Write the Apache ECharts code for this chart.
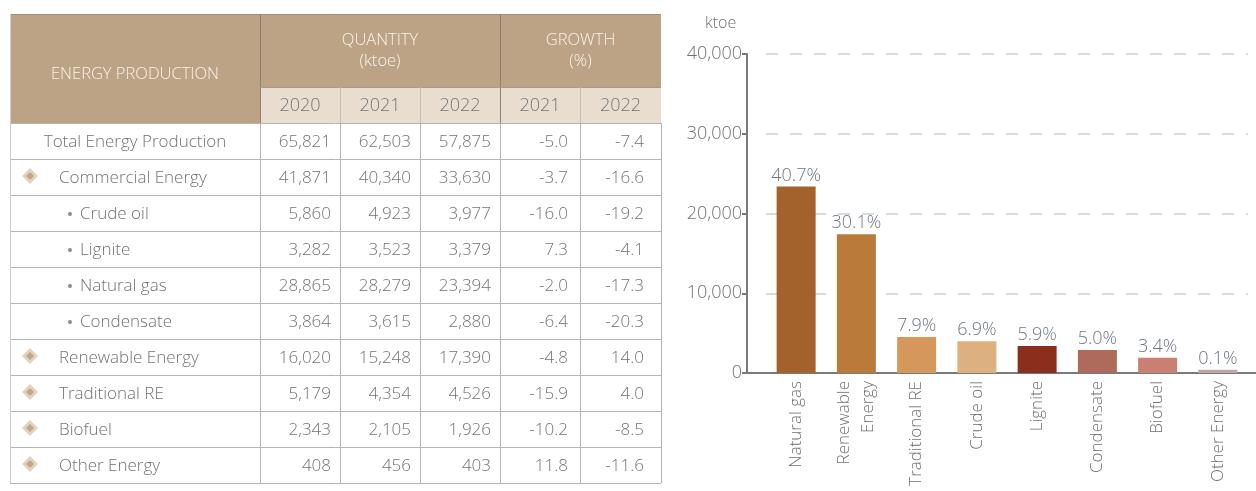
<!DOCTYPE html>
<html>
<head>
<meta charset="utf-8">
<script src="https://cdn.jsdelivr.net/npm/echarts@6/dist/echarts.min.js"></script>
<style>
  html, body { margin: 0; padding: 0; background: #ffffff; }
  #main { width: 1256px; height: 491px; }
</style>
</head>
<body>
<div id="main"></div>
<script>
// ---- Energy production table (ktoe and % growth) ----
const rowLabels = ['Total Energy Production', 'Commercial Energy', 'Crude oil', 'Lignite', 'Natural gas',
  'Condensate', 'Renewable Energy', 'Traditional RE', 'Biofuel', 'Other Energy'];
// 0 = total row, 1 = main group (icon), 2 = sub-item (bullet)
const rowLevels = [0, 1, 2, 2, 2, 2, 1, 1, 1, 1];
const quantity2020 = [65821, 41871, 5860, 3282, 28865, 3864, 16020, 5179, 2343, 408];
const quantity2021 = [62503, 40340, 4923, 3523, 28279, 3615, 15248, 4354, 2105, 456];
const quantity2022 = [57875, 33630, 3977, 3379, 23394, 2880, 17390, 4526, 1926, 403];
const growth2021 = [-5.0, -3.7, -16.0, 7.3, -2.0, -6.4, -4.8, -15.9, -10.2, 11.8];
const growth2022 = [-7.4, -16.6, -19.2, -4.1, -17.3, -20.3, 14.0, 4.0, -8.5, -11.6];
const quantityYears = ['2020', '2021', '2022'];
const growthYears = ['2021', '2022'];

// ---- 2022 production by source ----
const barCategories = ['Natural gas', 'Renewable\nEnergy', 'Traditional RE', 'Crude oil', 'Lignite',
  'Condensate', 'Biofuel', 'Other Energy'];
const barValues = [23394, 17390, 4526, 3977, 3379, 2880, 1926, 403];
const shareLabels = ['40.7%', '30.1%', '7.9%', '6.9%', '5.9%', '5.0%', '3.4%', '0.1%'];
const barColors = ['#a3622c', '#b97a3a', '#d6985a', '#ddb07f', '#8b2f1c', '#ae6a5a', '#c98072', '#c6a3a3'];
const yMax = 40000;
const yStep = 10000;

const FONT = '"Open Sans", "Noto Sans", sans-serif';
const W = 300; // light text weight
const chart = echarts.init(document.getElementById('main'), null, { renderer: 'canvas' });

const gridLeft = 766, gridRight = 8, gridTop = 54, gridBottom = 118, yAxisOffset = 19;
const axisText = '#707070';

chart.setOption({
  animation: false,
  backgroundColor: '#ffffff',
  textStyle: { fontFamily: FONT },
  title: {
    text: 'ktoe', left: 700, top: 10,
    textStyle: { fontSize: 16, fontWeight: W, color: axisText, fontFamily: FONT }
  },
  grid: { left: gridLeft, right: gridRight, top: gridTop, bottom: gridBottom, containLabel: false },
  xAxis: {
    type: 'category',
    data: barCategories,
    axisLine: { show: true, lineStyle: { color: '#7a7a7a', width: 2 } },
    axisTick: { show: false },
    axisLabel: {
      interval: 0, rotate: 90, margin: 8,
      fontSize: 17, fontWeight: W, color: axisText, fontFamily: FONT, lineHeight: 24
    }
  },
  yAxis: {
    type: 'value',
    min: 0, max: yMax, interval: yStep,
    offset: yAxisOffset,
    axisLine: { show: true, lineStyle: { color: '#7a7a7a', width: 2 } },
    axisTick: { show: true, length: 5, lineStyle: { color: '#7a7a7a', width: 2 } },
    axisLabel: {
      margin: 5, fontSize: 18, fontWeight: W, color: axisText, fontFamily: FONT,
      formatter: v => v.toLocaleString('en-US')
    },
    splitLine: { show: true, lineStyle: { color: '#cfcfcf', width: 1.5, type: [12, 12] } }
  },
  series: [{
    type: 'bar',
    barWidth: 39,
    data: barValues.map((v, i) => ({ value: v, itemStyle: { color: barColors[i] } })),
    label: {
      show: true, position: 'top', distance: 2,
      fontSize: 18, fontWeight: W, color: '#6f7784', fontFamily: FONT,
      formatter: p => shareLabels[p.dataIndex]
    }
  }]
});

// ---- table drawn as graphic elements ----
const T = {
  left: 10, right: 661, top: 14, head1: 87, head2: 123, rowH: 36,
  firstColRight: 260,
  colEdges: [260, 340, 420, 500, 580, 661],
  padRight: [9, 9, 9, 12, 17]
};
const headFill = '#bca385';
const subFill = '#e8ddcf';
const headText = '#f8f3ec';
const bodyText = '#737373';
const gridLine = '#b3b3b3';
const headLine = '#8c8074';
const bodyFont = W + ' 17px ' + FONT;

const g = [];
const line = (x1, y1, x2, y2, stroke, w) => g.push({
  type: 'line', silent: true,
  shape: { x1, y1, x2, y2 }, style: { stroke, lineWidth: w || 1 }
});
const text = (x, y, str, opts) => g.push({
  type: 'text', silent: true, x, y,
  style: Object.assign({
    text: str, fill: bodyText, font: bodyFont,
    textAlign: 'left', textVerticalAlign: 'middle', align: 'left', verticalAlign: 'middle'
  }, opts || {})
});
const centered = { textAlign: 'center', align: 'center' };

// header backgrounds
g.push({ type: 'rect', silent: true, shape: { x: T.left, y: T.top, width: T.right - T.left, height: T.head2 - T.top }, style: { fill: headFill } });
g.push({ type: 'rect', silent: true, shape: { x: T.firstColRight, y: T.head1, width: T.right - T.firstColRight, height: T.head2 - T.head1 }, style: { fill: subFill } });

// header text
const hOpts = Object.assign({ fill: headText, font: W + ' 16.5px ' + FONT }, centered);
text((T.left + T.firstColRight) / 2, 74, 'ENERGY PRODUCTION', hOpts);
text((T.colEdges[0] + T.colEdges[3]) / 2, 40, 'QUANTITY', hOpts);
text((T.colEdges[0] + T.colEdges[3]) / 2, 61, '(ktoe)', hOpts);
text((T.colEdges[3] + T.colEdges[5]) / 2, 40, 'GROWTH', hOpts);
text((T.colEdges[3] + T.colEdges[5]) / 2, 61, '(%)', hOpts);
quantityYears.concat(growthYears).forEach((yr, i) => {
  text((T.colEdges[i] + T.colEdges[i + 1]) / 2, (T.head1 + T.head2) / 2 + 1, yr,
    Object.assign({ font: W + ' 18px ' + FONT, fill: '#767676' }, centered));
});

// header lines
line(T.left, T.top + 0.5, T.right, T.top + 0.5, '#9b9187');
line(T.firstColRight + 0.5, T.top, T.firstColRight + 0.5, T.head2, headLine);
line(T.colEdges[3] + 0.5, T.top, T.colEdges[3] + 0.5, T.head2, headLine);
line(T.firstColRight, T.head1 + 0.5, T.right, T.head1 + 0.5, '#a49a8f');
[1, 2, 4].forEach(k => line(T.colEdges[k] + 0.5, T.head1, T.colEdges[k] + 0.5, T.head2, '#c9bfb3'));

// body rows
const columns = [quantity2020, quantity2021, quantity2022, growth2021, growth2022];
const bottom = T.head2 + rowLabels.length * T.rowH;
rowLabels.forEach((lab, r) => {
  const yTop = T.head2 + r * T.rowH;
  const yMid = yTop + T.rowH / 2 + 1;
  line(T.left, yTop + 0.5, T.right, yTop + 0.5, gridLine);
  const lvl = rowLevels[r];
  if (lvl === 0) {
    text((T.left + T.firstColRight) / 2, yMid, lab, centered);
  } else if (lvl === 1) {
    const cx = 30, cy = yMid - 2, s = 8;
    g.push({ type: 'polygon', silent: true, shape: { points: [[cx, cy - s], [cx + s, cy], [cx, cy + s], [cx - s, cy]] }, style: { fill: '#e2d2c0' } });
    g.push({ type: 'polygon', silent: true, shape: { points: [[cx, cy - 4], [cx + 4, cy], [cx, cy + 4], [cx - 4, cy]] }, style: { fill: '#c3a587' } });
    text(59, yMid, lab);
  } else {
    g.push({ type: 'circle', silent: true, shape: { cx: 70, cy: yMid, r: 2 }, style: { fill: '#8a8a8a' } });
    text(80, yMid, lab);
  }
  columns.forEach((col, c) => {
    const v = col[r];
    const str = c < 3 ? v.toLocaleString('en-US') : v.toFixed(1);
    text(T.colEdges[c + 1] - T.padRight[c], yMid, str, { textAlign: 'right', align: 'right' });
  });
});
line(T.left, bottom + 0.5, T.right, bottom + 0.5, gridLine);
// vertical body lines
T.colEdges.forEach(x => line(x + 0.5, T.head2, x + 0.5, bottom, gridLine));
line(T.left + 0.5, T.top, T.left + 0.5, bottom, '#cfcfcf');

// extend the category axis baseline to meet the offset value axis
const y0 = chart.convertToPixel({ yAxisIndex: 0 }, 0);
line(gridLeft - yAxisOffset, y0, gridLeft, y0, '#7a7a7a', 2);
line(1256 - gridRight, y0, 1256, y0, '#7a7a7a', 2);

chart.setOption({ graphic: { elements: g } });
</script>
</body>
</html>
